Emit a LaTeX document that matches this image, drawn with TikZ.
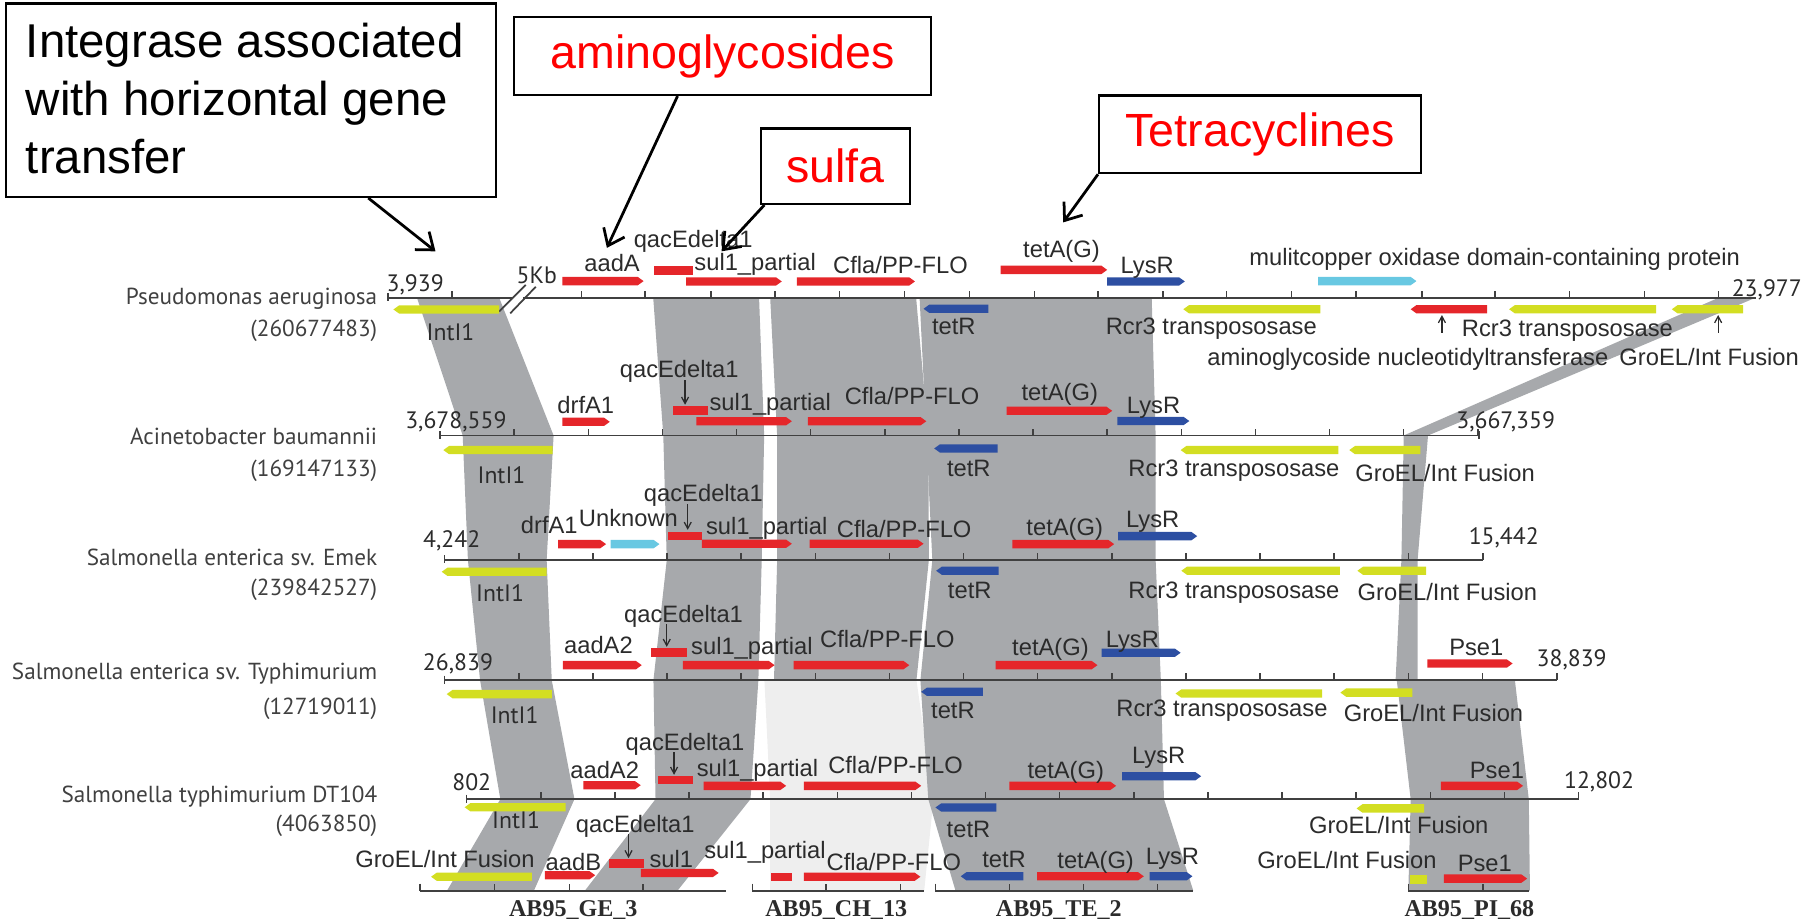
\documentclass[tikz,border=0pt]{standalone}
\usepackage{fontspec}
\setmainfont{Liberation Sans}
\newfontfamily\myr{PT Sans}
\newfontfamily\tms{Liberation Serif}
\usetikzlibrary{arrows.meta}

\definecolor{gred}{HTML}{E5262A}
\definecolor{gblue}{HTML}{2D4FA2}
\definecolor{gyel}{HTML}{D3DE22}
\definecolor{gcyan}{HTML}{68C8E2}
\definecolor{bandgrey}{HTML}{A7A9AC}
\definecolor{bandlight}{HTML}{EEEEEE}
\definecolor{ink}{HTML}{2B2B2B}

% gene arrows: x1, x2, y, colour
\newcommand{\geneR}[4]{\fill[#4] (#1,#3-3.6) -- (#2-5,#3-3.6) -- (#2,#3) -- (#2-5,#3+3.6) -- (#1,#3+3.6) -- cycle;}
\newcommand{\geneL}[4]{\fill[#4] (#2,#3-3.6) -- (#1+5,#3-3.6) -- (#1,#3) -- (#1+5,#3+3.6) -- (#2,#3+3.6) -- cycle;}
\newcommand{\geneB}[4]{\fill[#4] (#1,#3-3.6) rectangle (#2,#3+3.6);}
% homology band between two tracks: y1, xa, xb, y2, xc, xd
\newcommand{\band}[7][bandgrey]{\fill[#1] (#3,#2) -- (#4,#2) -- (#7,#5) -- (#6,#5) -- cycle;}

\begin{document}
\begin{tikzpicture}[
    x=0.2316mm, y=-0.2316mm,
    trk/.style={ink!90, line width=0.35mm},
    tick/.style={ink!90, line width=0.3mm},
    gl/.style={font=\fontsize{13.5}{15}\selectfont, text=ink, inner sep=0pt,
               text height=9.7pt, text depth=0pt},
    co/.style={font=\myr\fontsize{13.5}{15}\selectfont, text=ink, inner sep=0pt,
               text height=9.5pt, text depth=0pt},
    sp/.style={font=\myr\fontsize{13.2}{15}\selectfont, text=ink!90, inner sep=0pt,
               anchor=east, text height=9.3pt, text depth=0pt},
    ab/.style={font=\tms\bfseries\fontsize{13.7}{15}\selectfont, text=ink,
               inner sep=0pt, anchor=base},
    callbox/.style={draw=black, line width=0.45mm, fill=white, inner sep=0pt},
    calltxt/.style={font=\fontsize{26.5}{30}\selectfont, text=red},
    callarr/.style={-{Straight Barb[length=3mm,width=4.6mm]}, line width=0.55mm},
    pin/.style={-{Straight Barb[length=1.3mm,width=1.4mm]}, line width=0.25mm, ink,
                shorten <=1pt},
  ]
  \useasboundingbox (0,0) rectangle (1568,793);
  \clip (0,0) rectangle (1568,793);

  % homology bands
  \band{257}{360}{431}{376}{399.5}{478}
  \band{376}{399.5}{478}{483.5}{404}{472}
  \band{483.5}{404}{472}{587.3}{414.5}{476.4}
  \band{587.3}{414.5}{476.4}{690}{432}{496}
  \band{690}{432}{496}{769}{386}{461}
  \band{257}{564}{655.4}{376}{572.7}{659.8}
  \band{376}{572.7}{659.8}{483.5}{575.7}{657.7}
  \band{483.5}{575.7}{657.7}{587.3}{564.2}{654.8}
  \band{587.3}{564.2}{654.8}{690}{566}{648}
  \band{690}{566}{648}{769}{505}{585}
  \band{257}{665}{791}{376}{671}{801.5}
  \band{376}{671}{801.5}{483.5}{671}{802}
  \band{483.5}{671}{802}{587.3}{668.3}{791.3}
  \band[bandlight]{587.3}{660}{791.3}{690}{665}{806}
  \band[bandlight]{690}{665}{806}{769}{665}{798}
  \band{257}{794}{994.4}{376}{799.8}{997.8}
  \band{376}{799.8}{997.8}{483.5}{805}{997.8}
  \band{483.5}{805}{997.8}{587.3}{794.7}{1002.3}
  \band{587.3}{794.7}{1002.3}{690}{801.5}{1005}
  \band{690}{801.5}{1005}{769}{825}{1030.3}
  \band{257}{1484}{1516}{376}{1212}{1233}
  \band{376}{1212}{1233}{483.5}{1210}{1224}
  \band{483.5}{1210}{1224}{587.3}{1205}{1224}
  \band{587.3}{1206}{1308}{690}{1218}{1320}
  \band{690}{1218}{1320}{769}{1216}{1321}

  % track lines and ticks
  \draw[trk] (335,257) -- (443,257);
  \draw[trk] (452,257) -- (1516,257);
  \draw[trk] (431,269) -- (454,246);
  \draw[trk] (440.5,270.6) -- (462.6,247.6);
  \draw[tick] (335,253) -- (335,260);
  \foreach \x in {390.3,502,557,614,669,725,781,837,893,948,1004,1059,1115,1171,1228,1291,1355,1420,1484}
    \draw[tick] (\x,257) -- ++(0,-6);

  \draw[trk] (380,376) -- (1277,376);
  \draw[tick] (380,372) -- (380,379);
  \draw[tick] (1277,372) -- (1277,379);
  \foreach \k in {1,...,14} \draw[tick] ({380+64*\k},376) -- ++(0,-6);

  \draw[trk] (384,483.5) -- (1280.6,483.5);
  \draw[tick] (384,479.5) -- (384,486.5);
  \draw[tick] (1280.6,477.5) -- (1280.6,483.5);
  \foreach \k in {1,...,13} \draw[tick] ({384+64*\k},483.5) -- ++(0,-6);

  \draw[trk] (384,587.3) -- (1344.4,587.3);
  \draw[tick] (384,583.3) -- (384,590.3);
  \draw[tick] (1344.4,581.3) -- (1344.4,587.3);
  \foreach \k in {1,...,14} \draw[tick] ({384+64*\k},587.3) -- ++(0,-6);

  \draw[trk] (403,690) -- (1363,690);
  \draw[tick] (403,686) -- (403,693);
  \draw[tick] (1363,684) -- (1363,690);
  \foreach \k in {1,...,14} \draw[tick] ({403+64*\k},690) -- ++(0,-6);

  \draw[trk] (362.6,769) -- (626.7,769);
  \draw[trk] (649.6,769) -- (798.1,769);
  \draw[trk] (807.7,769) -- (1030.3,769);
  \draw[trk] (1216,769) -- (1320,769);
  \foreach \x in {362.6,649.6,807.7,1216} \draw[tick] (\x,763) -- (\x,769);
  \foreach \x in {426.8,491.7,555,713.4,777.6,871.5,935.4,999.5,1280.6}
    \draw[tick] (\x,769) -- ++(0,-6);

  % genes, track 1
  \geneR{485.5}{555.7}{242.7}{gred}
  \geneB{565}{598}{233.5}{gred}
  \geneR{592.5}{675}{243}{gred}
  \geneR{688}{790}{243}{gred}
  \geneR{864}{956}{233}{gred}
  \geneR{956}{1023}{243}{gblue}
  \geneR{1138}{1223}{242.7}{gcyan}
  \geneL{339.7}{430.9}{267.2}{gyel}
  \geneL{797.4}{853.4}{266.6}{gblue}
  \geneL{1021.7}{1140}{267}{gyel}
  \geneL{1218}{1284}{267}{gred}
  \geneL{1303}{1430}{267}{gyel}
  \geneL{1443.5}{1505}{267}{gyel}
  % track 2
  \geneR{485.5}{526.5}{364.2}{gred}
  \geneB{580.8}{611}{354.5}{gred}
  \geneR{601.3}{683.7}{363.7}{gred}
  \geneR{697.6}{799.8}{363.7}{gred}
  \geneR{869.1}{960.3}{354.7}{gred}
  \geneR{964.7}{1026.9}{363.5}{gblue}
  \geneL{382.8}{477.2}{388.6}{gyel}
  \geneL{806.6}{861.3}{387.2}{gblue}
  \geneL{1019.4}{1155.5}{388.6}{gyel}
  \geneL{1165}{1226.3}{388.6}{gyel}
  % track 3
  \geneR{482}{523.3}{469.8}{gred}
  \geneR{527.3}{569.4}{469.8}{gcyan}
  \geneB{576.5}{606}{462.7}{gred}
  \geneR{606}{683.7}{469.5}{gred}
  \geneR{699}{797.4}{469.5}{gred}
  \geneR{874.2}{962}{469.8}{gred}
  \geneR{965.4}{1033.7}{462.9}{gblue}
  \geneL{381.4}{472}{493.7}{gyel}
  \geneL{808.3}{862.3}{492.8}{gblue}
  \geneL{1020}{1156.8}{492.8}{gyel}
  \geneL{1172}{1231.4}{492.8}{gyel}
  % track 4
  \geneR{485.9}{554.1}{574.3}{gred}
  \geneB{562.2}{592.8}{563.5}{gred}
  \geneR{589.7}{668.8}{574.3}{gred}
  \geneR{685.2}{785.1}{574.3}{gred}
  \geneR{859.6}{947.6}{574.3}{gred}
  \geneR{951.1}{1019.4}{563.6}{gblue}
  \geneR{1232.4}{1306}{572.9}{gred}
  \geneL{385.7}{476.4}{599.3}{gyel}
  \geneL{795.4}{848.6}{597.3}{gblue}
  \geneL{1015}{1141.5}{598.8}{gyel}
  \geneL{1157.3}{1219.5}{598}{gyel}
  % track 5
  \geneR{503.7}{553.2}{678}{gred}
  \geneB{568.5}{598.7}{673.6}{gred}
  \geneR{607.5}{678.8}{678.5}{gred}
  \geneR{694}{795.4}{678.5}{gred}
  \geneR{871.5}{963.7}{678.5}{gred}
  \geneR{968.8}{1037.1}{670.2}{gblue}
  \geneR{1244}{1315}{678.5}{gred}
  \geneL{401.2}{488.3}{697}{gyel}
  \geneL{807.7}{860.2}{697.2}{gblue}
  \geneL{1171.3}{1229.7}{698}{gyel}
  % AB95 contigs
  \geneL{372.2}{459.2}{757}{gyel}
  \geneR{470.5}{513.9}{755.7}{gred}
  \geneB{525.6}{555.7}{745.6}{gred}
  \geneR{553.3}{620.5}{753.7}{gred}
  \geneB{665.6}{683.7}{757}{gred}
  \geneR{694}{794.7}{757}{gred}
  \geneL{829.5}{883.5}{756.6}{gblue}
  \geneR{895.4}{987.6}{756.6}{gred}
  \geneR{992.7}{1029.6}{756.6}{gblue}
  \geneB{1217.8}{1232.4}{759.5}{gyel}
  \geneR{1246.7}{1318.6}{758.6}{gred}

  % species
  \node[sp] (sp1) at (326,255.6) {Pseudomonas aeruginosa};
  \node[sp] (id1) at (326,283.6) {(260677483)};
  \node[sp] (sp2) at (326,377) {Acinetobacter baumannii};
  \node[sp] (id2) at (326,404) {(169147133)};
  \node[sp] (sp3) at (326,481) {Salmonella enterica sv. Emek};
  \node[sp] (id3) at (326,507) {(239842527)};
  \node[sp] (sp4) at (326,580) {Salmonella enterica sv. Typhimurium};
  \node[sp] (id4) at (326,610) {(12719011)};
  \node[sp] (sp5) at (326,686) {Salmonella typhimurium DT104};
  \node[sp] (id5) at (326,711) {(4063850)};

  % labels, track 1
  \node[co] (c1a) at (358.5,244.7) {3,939};
  \node[co] (kb) at (463.5,237.5) {5Kb};
  \node[gl] (t1-aad) at (528.5,227) {aadA};
  \node[gl] (t1-qac) at (598.5,206.5) {qacEdelta1};
  \node[gl] (t1-sul) at (652,226) {sul1\_partial};
  \node[gl] (t1-cfla) at (777.5,229) {Cfla/PP-FLO};
  \node[gl] (t1-tet) at (916.5,215) {tetA(G)};
  \node[gl] (t1-lys) at (990.5,229) {LysR};
  \node[gl] (t1-mco) at (1290.5,221.7) {mulitcopper oxidase domain-containing protein};
  \node[co] (c1b) at (1525.5,249) {23,977};
  \node[co] (t1-int) at (389,286.4) {IntI1};
  \node[gl] (t1-tetR) at (823.5,281.6) {tetR};
  \node[gl, anchor=west] (t1-rcr) at (954.5,281.6) {Rcr3 transpososase};
  \node[gl, anchor=west] (t1-rcrb) at (1262,283.6) {Rcr3 transpososase};
  \node[gl, anchor=east] (t1-ant) at (1389,308.6) {aminoglycoside nucleotidyltransferase};
  \node[gl, anchor=west] (t1-gro) at (1398,308.6) {GroEL/Int Fusion};
  \coordinate (t1-antTip) at (1245,272);
  \coordinate (t1-groTip) at (1483.5,272);
  \draw[pin, shorten <=3.2mm] (t1-ant.north -| t1-antTip) -- (t1-antTip);
  \draw[pin, shorten <=3.2mm] (t1-gro.north -| t1-groTip) -- (t1-groTip);

  % labels, track 2
  \node[co] (c2a) at (393.6,362.7) {3,678,559};
  \node[gl] (t2-drf) at (505.8,349.8) {drfA1};
  \node[gl] (t2-qac) at (586.5,319) {qacEdelta1};
  \node[gl] (t2-sul) at (665,347) {sul1\_partial};
  \node[gl] (t2-cfla) at (787.5,341.8) {Cfla/PP-FLO};
  \node[gl] (t2-tet) at (915,338.3) {tetA(G)};
  \node[gl] (t2-lys) at (996,349.8) {LysR};
  \node[co] (c2b) at (1300,362.7) {3,667,359};
  \node[co] (t2-int) at (433,410.6) {IntI1};
  \node[gl] (t2-tetR) at (836.5,404.4) {tetR};
  \node[gl, anchor=west] (t2-rcr) at (974,404.4) {Rcr3 transpososase};
  \node[gl, anchor=west] (t2-gro) at (1170,408) {GroEL/Int Fusion};
  \coordinate (t2-qacTip) at (591.5,349.5);
  \draw[pin] (t2-qac.south -| t2-qacTip) -- (t2-qacTip);

  % labels, track 3
  \node[co] (c3a) at (390,465.8) {4,242};
  \node[gl] (t3-drf) at (474.3,453.4) {drfA1};
  \node[gl] (t3-unk) at (542.6,447.6) {Unknown};
  \node[gl] (t3-qac) at (607.3,426) {qacEdelta1};
  \node[gl] (t3-sul) at (662,454.5) {sul1\_partial};
  \node[gl] (t3-cfla) at (780.7,456.3) {Cfla/PP-FLO};
  \node[gl] (t3-tet) at (919.3,454.8) {tetA(G)};
  \node[gl] (t3-lys) at (995.3,448.5) {LysR};
  \node[co] (c3b) at (1298.4,462.9) {15,442};
  \node[co] (t3-int) at (431.8,512) {IntI1};
  \node[gl] (t3-tetR) at (837.3,509) {tetR};
  \node[gl, anchor=west] (t3-rcr) at (974,509) {Rcr3 transpososase};
  \node[gl, anchor=west] (t3-gro) at (1172,511) {GroEL/Int Fusion};
  \coordinate (t3-qacTip) at (593.8,457.5);
  \draw[pin] (t3-qac.south -| t3-qacTip) -- (t3-qacTip);

  % labels, track 4
  \node[co] (c4a) at (395.4,571.4) {26,839};
  \node[gl] (t4-aad) at (516.7,557) {aadA2};
  \node[gl] (t4-qac) at (590.2,530) {qacEdelta1};
  \node[gl] (t4-sul) at (649.2,557.5) {sul1\_partial};
  \node[gl] (t4-cfla) at (766.2,552) {Cfla/PP-FLO};
  \node[gl] (t4-tet) at (907,558.5) {tetA(G)};
  \node[gl] (t4-lys) at (977.7,551.3) {LysR};
  \node[gl] (t4-pse) at (1274.7,558.5) {Pse1};
  \node[co] (c4b) at (1357,568.5) {38,839};
  \node[co] (t4-int) at (444.4,617.5) {IntI1};
  \node[gl] (t4-tetR) at (822.8,613.2) {tetR};
  \node[gl, anchor=west] (t4-rcr) at (963.7,611) {Rcr3 transpososase};
  \node[gl, anchor=west] (t4-gro) at (1160,616) {GroEL/Int Fusion};
  \coordinate (t4-qacTip) at (575.7,558.5);
  \draw[pin] (t4-qac.south -| t4-qacTip) -- (t4-qacTip);

  % labels, track 5
  \node[co] (c5a) at (407.3,675) {802};
  \node[gl] (t5-aad) at (522.1,664.4) {aadA2};
  \node[gl] (t5-qac) at (591.5,640.5) {qacEdelta1};
  \node[gl] (t5-sul) at (654,663.5) {sul1\_partial};
  \node[gl] (t5-cfla) at (773.2,660.7) {Cfla/PP-FLO};
  \node[gl] (t5-tet) at (920.2,665) {tetA(G)};
  \node[gl] (t5-lys) at (1000.5,652) {LysR};
  \node[gl] (t5-pse) at (1292.5,665) {Pse1};
  \node[co] (c5b) at (1380.7,673.6) {12,802};
  \node[co] (t5-int) at (445.6,708.2) {IntI1};
  \node[gl] (t5-tetR) at (836.2,715.4) {tetR};
  \node[gl] (t5-gro) at (1207.7,712.5) {GroEL/Int Fusion};
  \coordinate (t5-qacTip) at (582,669);
  \draw[pin] (t5-qac.south -| t5-qacTip) -- (t5-qacTip);

  % labels, AB95 contigs
  \node[gl] (t6-gro) at (384.2,741.3) {GroEL/Int Fusion};
  \node[gl] (t6-aad) at (495.1,744.2) {aadB};
  \node[gl] (t6-qac) at (548.5,711) {qacEdelta1};
  \node[gl] (t6-sul) at (579.6,741.3) {sul1};
  \node[gl] (t6-sulp) at (660.5,734.1) {sul1\_partial};
  \node[gl] (t6-cfla) at (771.8,744.2) {Cfla/PP-FLO};
  \node[gl] (t6-tetR) at (866.9,741.3) {tetR};
  \node[gl] (t6-tet) at (946,742.7) {tetA(G)};
  \node[gl] (t6-lys) at (1012.4,739.3) {LysR};
  \node[gl] (t6-grob) at (1163,742.7) {GroEL/Int Fusion};
  \node[gl] (t6-pse) at (1282,745) {Pse1};
  \coordinate (t6-qacTip) at (542.7,741);
  \draw[pin] (t6-qac.south -| t6-qacTip) -- (t6-qacTip);
  \node[ab] (ge3) at (495,791.5) {AB95\_GE\_3};
  \node[ab] (ch13) at (722,791.5) {AB95\_CH\_13};
  \node[ab] (te2) at (914.2,791.5) {AB95\_TE\_2};
  \node[ab] (pi68) at (1268.7,791.5) {AB95\_PI\_68};

  % callouts
  \node[callbox, minimum width=97.97mm, minimum height=38.68mm] (intBox) at (216.5,86.5) {};
  \node[anchor=north west, align=left, inner sep=0pt,
        font=\fontsize{27}{32.9}\selectfont] (intTxt) at (22,20)
        {Integrase associated\\with horizontal gene\\transfer};
  \node[callbox, calltxt, minimum width=83.38mm, minimum height=15.52mm] (amiBox) at (624,48.5) {aminoglycosides};
  \node[callbox, calltxt, minimum width=29.88mm, minimum height=15.05mm] (sulBox) at (721.5,143.5) {sulfa};
  \node[callbox, calltxt, minimum width=64.38mm, minimum height=15.52mm] (tetBox) at (1088,116) {Tetracyclines};
  \coordinate (intTip) at (376,217);
  \coordinate (amiTip) at (524,214);
  \coordinate (sulTip) at (623,217);
  \coordinate (tetTip) at (918,192);
  \draw[callarr] (intBox.south -| 318,0) -- (intTip);
  \draw[callarr] (amiBox.south -| 585,0) -- (amiTip);
  \draw[callarr] (sulBox.south -| 660,0) -- (sulTip);
  \draw[callarr] (tetBox.south west) -- (tetTip);
\end{tikzpicture}
\end{document}
